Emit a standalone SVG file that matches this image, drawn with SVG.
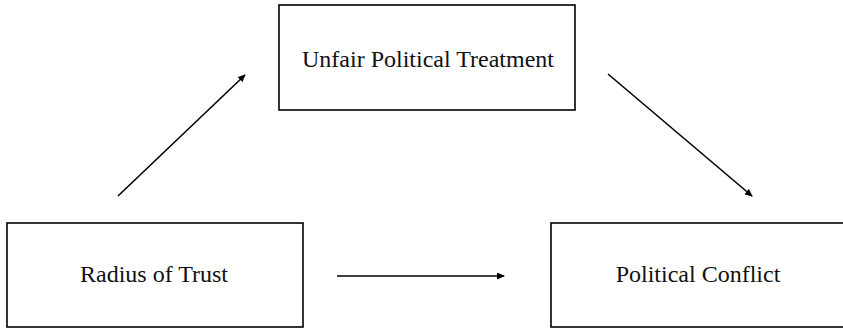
<svg xmlns="http://www.w3.org/2000/svg" width="843" height="329" viewBox="0 0 843 329">
<style>
.box{fill:#fff;stroke:#000;stroke-width:1.6}
.lbl{font-family:"Liberation Serif","Times New Roman",serif;font-size:24px;fill:#111;text-anchor:middle}
.edge{stroke:#000;stroke-width:1.6;fill:none;marker-end:url(#ah)}
</style>
<defs>
<marker id="ah" markerWidth="10" markerHeight="10" refX="7" refY="3.5" orient="auto" markerUnits="userSpaceOnUse">
<path d="M0,0 L8,3.5 L0,7 Z" fill="#000"/>
</marker>
</defs>
<rect width="843" height="329" fill="#fff"/>
<g id="unfair">
<rect class="box" x="279" y="5" width="296" height="105"/>
<text class="lbl" x="428" y="67">Unfair Political Treatment</text>
</g>
<g id="radius">
<rect class="box" x="7" y="223" width="296" height="104"/>
<text class="lbl" x="154" y="282">Radius of Trust</text>
</g>
<g id="conflict">
<rect class="box" x="551" y="223" width="296" height="104"/>
<text class="lbl" x="698" y="282">Political Conflict</text>
</g>
<g id="connectors">
<line class="edge" x1="118" y1="196" x2="245" y2="75"/>
<line class="edge" x1="608" y1="74" x2="752" y2="196"/>
<line class="edge" x1="337" y1="276" x2="504" y2="276"/>
</g>
</svg>
